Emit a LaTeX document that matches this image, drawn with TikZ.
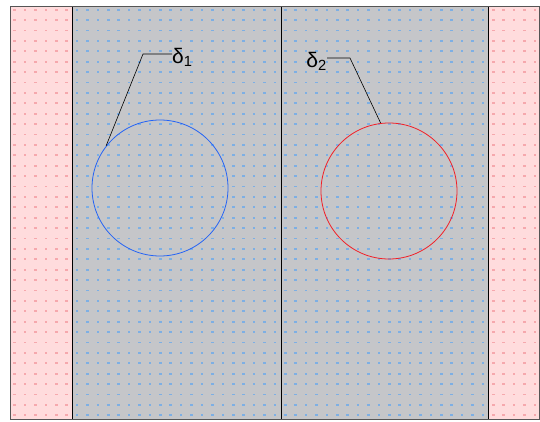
\documentclass[tikz,border=0pt]{standalone}
\usepackage{fontspec}
\setmainfont{Liberation Sans}
\usepackage{xcolor}
\usepackage{tikz}
\usetikzlibrary{positioning}
\definecolor{xpink}{HTML}{FFDCDD}
\definecolor{xgray}{HTML}{C5C6C9}
\definecolor{xpinkdot}{HTML}{F6A8AD}
\definecolor{xbluedot}{HTML}{7DAFE4}
\definecolor{xblue}{HTML}{2463F5}
\definecolor{xred}{HTML}{F21F27}
\definecolor{xframe}{HTML}{555555}

\begin{document}
\begin{tikzpicture}[
    x=1pt, y=-1pt,
    zone/.style={fill=#1, draw=none},
    disc/.style={circle, draw=#1, line width=0.8pt, minimum size=136pt, inner sep=0pt},
    tag/.style={inner sep=0pt, font=\fontsize{21}{23}\selectfont},
    leader/.style={draw=black, line width=0.6pt},
]
\useasboundingbox (0,0) rectangle (540,421);

% Zones
\fill[zone=xpink] (10,6) rectangle (72,419);
\fill[zone=xgray] (72,6) rectangle (488,419);
\fill[zone=xpink] (488,6) rectangle (539,419);

% Dot grid
\foreach \i in {0,...,50} {
  \pgfmathsetmacro{\px}{14.7+10.406*\i}
  \ifnum\i<6 \def\dotc{xpinkdot}\else\ifnum\i>45 \def\dotc{xpinkdot}\else\def\dotc{xbluedot}\fi\fi
  \foreach \j in {0,...,39} {
    \pgfmathsetmacro{\py}{9.7+10.4*\j}
    \fill[\dotc] (\px-1.3,\py-0.95) rectangle (\px+1.3,\py+0.95);
  }
}

% Dividers and frame
\draw[line width=0.8pt] (72,6) -- (72,419);
\draw[line width=0.8pt] (281,6) -- (281,419);
\draw[line width=0.8pt] (488,6) -- (488,419);
\draw[xframe, line width=1pt] (10,6) rectangle (539,419);

% Circles
\node[disc=xblue] (c1) at (160,188) {};
\node[disc=xred] (c2) at (389,191) {};

% Labels
\node[tag, anchor=west] (d1) at (172,57) {δ\textsubscript{1}};
\node[tag, anchor=east] (d2) at (327,61) {δ\textsubscript{2}};
\coordinate (k1) at (143,54);
\coordinate (k2) at (350,58);

% Leaders
\draw[leader] (c1.142) -- (k1) -- (k1 -| d1.west);
\draw[leader] (c2.97) -- (k2) -- (k2 -| d2.east);

\end{tikzpicture}
\end{document}
